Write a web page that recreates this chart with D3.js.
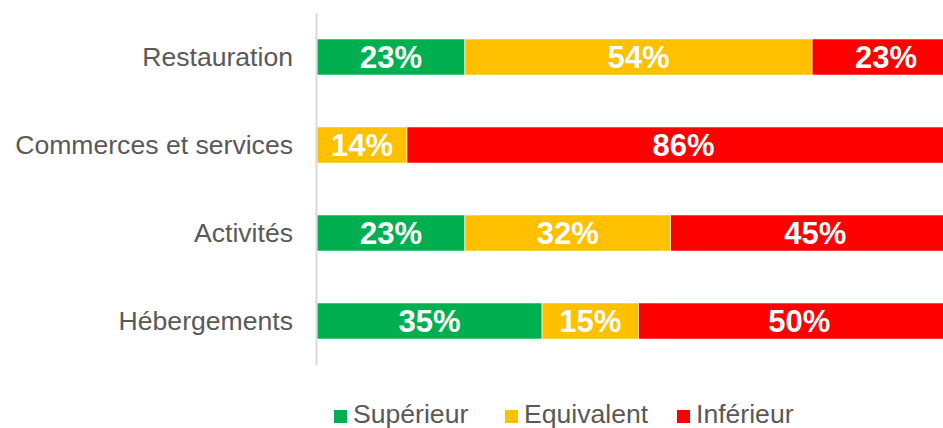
<!DOCTYPE html>
<html>
<head>
<meta charset="utf-8">
<script src="https://cdn.jsdelivr.net/npm/d3@7"></script>
<style>
  body { margin: 0; background: #fff; }
  svg { display: block; font-family: "Liberation Sans", Arial, sans-serif; }
</style>
</head>
<body>
<div class="chart"></div>
<script>
const width = 943;
const height = 428;

// categories, top to bottom
const categories = ["Restauration", "Commerces et services", "Activités", "Hébergements"];
const series = ["Supérieur", "Equivalent", "Inférieur"];
const colors = ["#00B050", "#FFC000", "#FF0000"];

// percentages per series, same order as categories
const superieur = [23, 0, 23, 35];
const equivalent = [54, 14, 32, 15];
const inferieur = [23, 86, 45, 50];

const rows = categories.map((c, i) => ({
    category: c,
    "Supérieur": superieur[i],
    "Equivalent": equivalent[i],
    "Inférieur": inferieur[i]
}));

const stacked = d3.stack().keys(series)(rows);

// plot runs past the right edge of the picture (cropped like the original)
const xScale = d3.scaleLinear()
    .domain([0, 100])
    .range([317, 960]);

const yScale = d3.scaleBand()
    .domain(categories)
    .range([13, 365])
    .paddingInner(0.59)
    .paddingOuter(0.295);

const svg = d3.select("div.chart")
    .append("svg")
    .attr("width", width)
    .attr("height", height)
    .attr("viewBox", [0, 0, width, height]);

// bars
const layers = svg.append("g")
    .attr("class", "bars")
    .selectAll("g")
    .data(stacked)
    .join("g")
    .attr("fill", (d, i) => colors[i]);

layers.selectAll("rect")
    .data(d => d.map(v => ({ v, key: d.key })))
    .join("rect")
    .attr("x", d => xScale(d.v[0]))
    .attr("y", d => yScale(d.v.data.category))
    .attr("width", d => xScale(d.v[1]) - xScale(d.v[0]))
    .attr("height", yScale.bandwidth())
    .attr("stroke", "#fff")
    .attr("stroke-width", 0.6);

// value labels
layers.selectAll("text")
    .data(d => d.map(v => ({ v, key: d.key })).filter(d => d.v[1] - d.v[0] > 0))
    .join("text")
    .attr("x", d => (xScale(d.v[0]) + xScale(d.v[1])) / 2)
    .attr("y", d => yScale(d.v.data.category) + yScale.bandwidth() / 2)
    .attr("dy", "0.36em")
    .attr("text-anchor", "middle")
    .attr("fill", "#fff")
    .attr("font-weight", "bold")
    .attr("font-size", 31)
    .text(d => (d.v[1] - d.v[0]) + "%");

// y axis
const yAxis = svg.append("g")
    .attr("class", "yAxis")
    .attr("transform", "translate(316,0)")
    .call(d3.axisLeft(yScale).tickSize(0).tickPadding(23));

yAxis.select(".domain")
    .attr("stroke", "#d9d9d9")
    .attr("stroke-width", 2);

yAxis.selectAll("text")
    .attr("font-size", 26.6)
    .attr("font-family", "Liberation Sans, Arial, sans-serif")
    .attr("fill", "#595959");

// legend
const legendX = [334, 505, 677];
const legend = svg.append("g")
    .attr("class", "legend")
    .selectAll("g")
    .data(series)
    .join("g")
    .attr("transform", (d, i) => `translate(${legendX[i]},410)`);

legend.append("rect")
    .attr("width", 13)
    .attr("height", 13)
    .attr("fill", (d, i) => colors[i]);

legend.append("text")
    .attr("x", 19)
    .attr("y", 13)
    .attr("font-size", 26.6)
    .attr("fill", "#595959")
    .text(d => d);
</script>
</body>
</html>
